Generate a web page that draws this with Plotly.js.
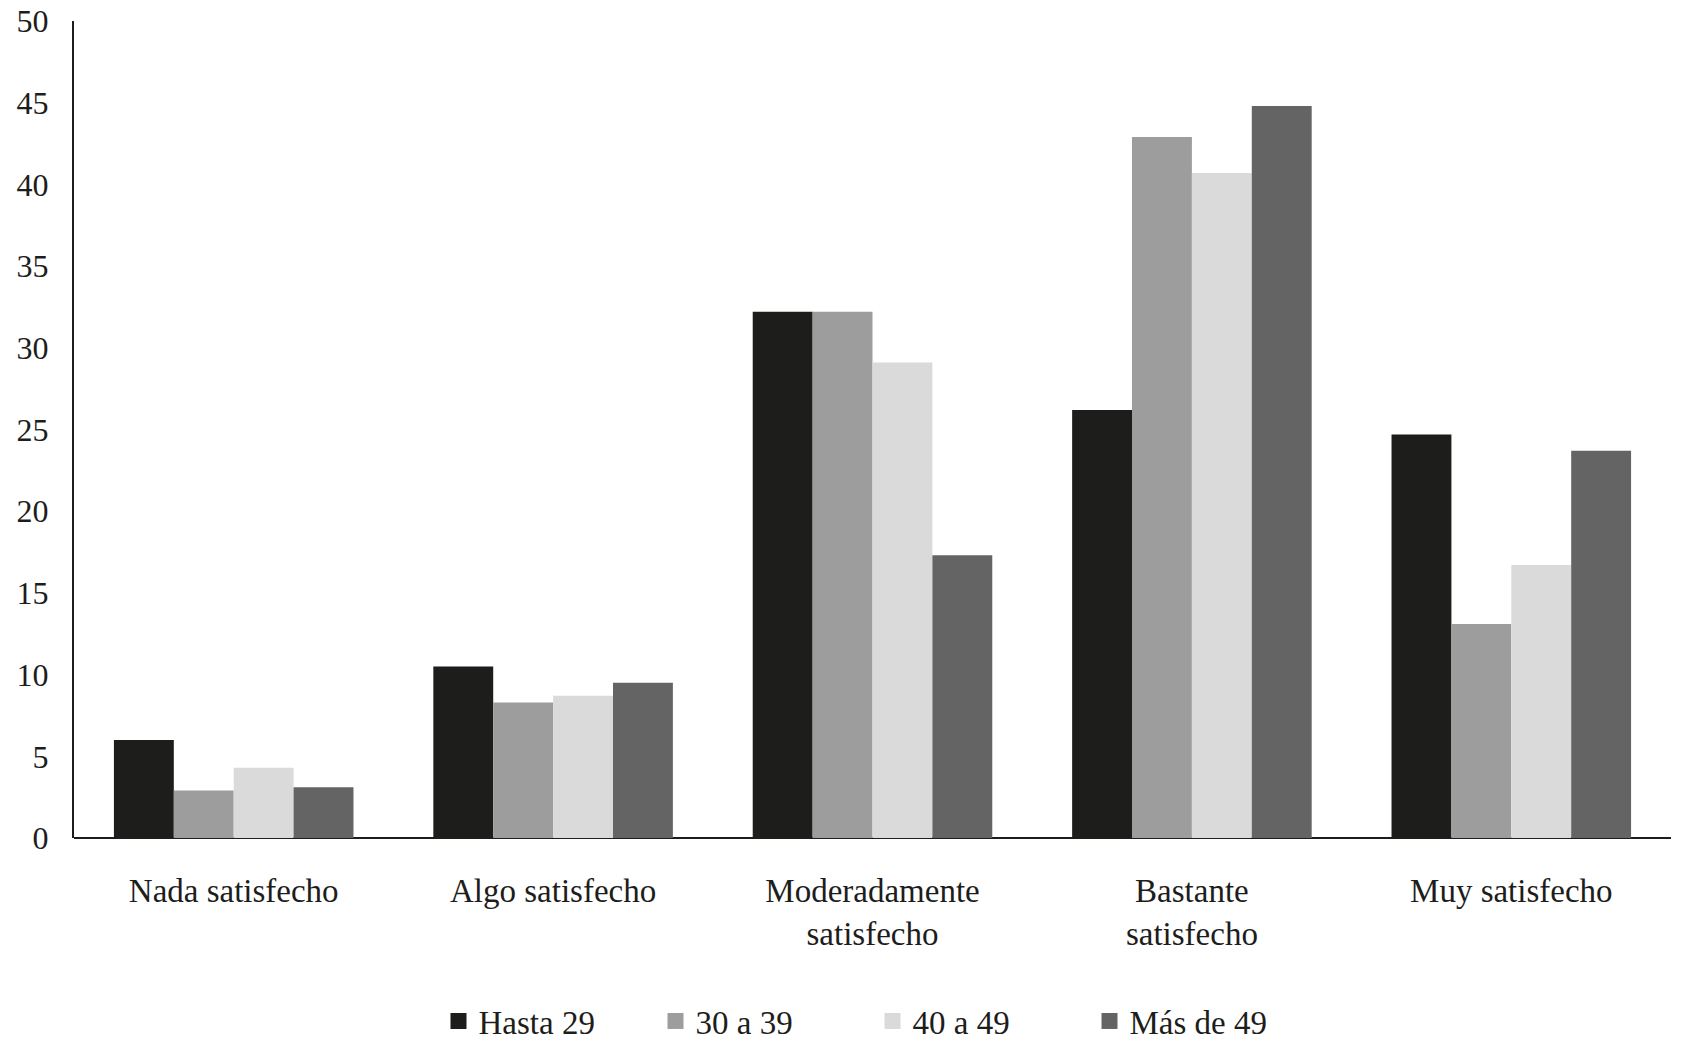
<!DOCTYPE html>
<html>
<head>
<meta charset="utf-8">
<script src="https://cdn.plot.ly/plotly-3.0.1.min.js"></script>
<style>html,body{margin:0;padding:0;background:#fff;}#chart{width:1682px;height:1054px;}</style>
</head>
<body>
<div id="chart"></div>
<script>
const categories = ["Nada satisfecho", "Algo satisfecho", "Moderadamente<br>satisfecho", "Bastante<br>satisfecho", "Muy satisfecho"];
const seriesNames = ["Hasta 29", "30 a 39", "40 a 49", "Más de 49"];
const hasta29 = [6.0, 10.5, 32.2, 26.2, 24.7];
const de30a39 = [2.9, 8.3, 32.2, 42.9, 13.1];
const de40a49 = [4.3, 8.7, 29.1, 40.7, 16.7];
const masDe49 = [3.1, 9.5, 17.3, 44.8, 23.7];
const yTicks = [0, 5, 10, 15, 20, 25, 30, 35, 40, 45, 50];

const colors = ["#1d1d1b", "#9e9d9d", "#dadada", "#646464"];
const values = [hasta29, de30a39, de40a49, masDe49];
const traces = values.map((v, i) => ({
  type: "bar",
  name: seriesNames[i],
  x: categories,
  y: v,
  marker: {color: colors[i], line: {width: 0}},
  showlegend: false,
  legendgroup: "g" + i,
  hoverinfo: "x+y+name"
}));
// legend entries with larger square swatches
values.forEach((v, i) => {
  traces.push({
    type: "scatter",
    mode: "markers",
    name: seriesNames[i],
    x: [null],
    y: [null],
    legendgroup: "g" + i,
    marker: {symbol: "square", size: 16, color: colors[i]},
    hoverinfo: "skip"
  });
});

const font = {family: "Liberation Serif, serif", size: 33, color: "#1d1d1b"};
const tickFontY = {family: "Liberation Serif, serif", size: 32, color: "#1d1d1b"};
const layout = {
  width: 1682,
  height: 1054,
  margin: {l: 74, r: 11, t: 21, b: 216, autoexpand: false},
  paper_bgcolor: "#ffffff",
  plot_bgcolor: "#ffffff",
  font: font,
  barmode: "group",
  bargap: 0.25,
  bargroupgap: 0,
  showlegend: true,
  legend: {
    orientation: "h",
    x: 0.5, xanchor: "center",
    y: -0.224, yanchor: "middle",
    font: font,
    entrywidth: 172,
    itemsizing: "trace",
    traceorder: "normal"
  },
  xaxis: {
    type: "category",
    showline: false,
    showgrid: false,
    zeroline: false,
    ticks: "",
    ticklabelstandoff: 30,
    tickfont: font
  },
  yaxis: {
    range: [0, 50],
    tickvals: yTicks,
    ticktext: yTicks.map(String),
    showgrid: false,
    zeroline: true,
    zerolinecolor: "#1d1d1b",
    zerolinewidth: 2,
    showline: true,
    linecolor: "#1d1d1b",
    linewidth: 2,
    ticks: "",
    ticklabelstandoff: 17,
    tickfont: tickFontY
  }
};

Plotly.newPlot("chart", traces, layout, {displayModeBar: false, staticPlot: true});
</script>
</body>
</html>
